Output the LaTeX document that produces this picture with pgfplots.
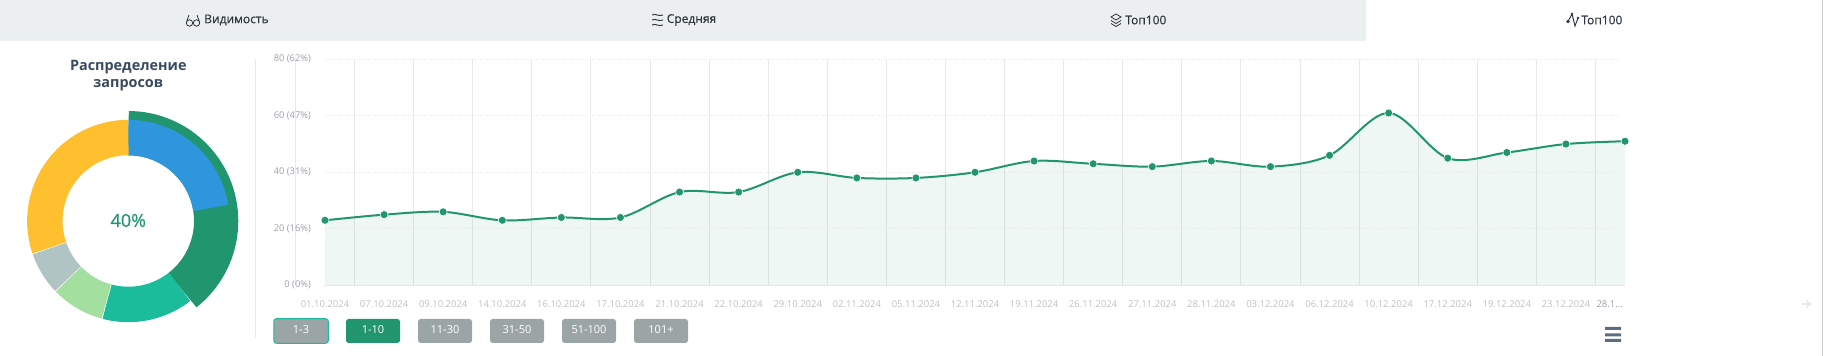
\documentclass[border=0pt]{standalone}
\usepackage{fontspec}
\setmainfont{Open Sans}
\newfontfamily\semib[FakeBold=0.5]{Open Sans}
\usepackage{pgfplots}
\pgfplotsset{compat=1.18}
\usetikzlibrary{arrows.meta}
\definecolor{dgreen}{HTML}{21956E}
\definecolor{teal2}{HTML}{1ABC9C}
\definecolor{lgreen}{HTML}{A3E0A0}
\definecolor{bluegrey}{HTML}{B0C4C4}
\definecolor{amber}{HTML}{FFC02F}
\definecolor{sblue}{HTML}{2F96DD}
\definecolor{band}{HTML}{ECEFF0}
\definecolor{btn}{HTML}{9CA5A5}
\definecolor{gridc}{HTML}{E6EAEA}
\definecolor{ytxt}{HTML}{9CA0AB}
\definecolor{xtxt}{HTML}{BEC0C6}
\definecolor{titlec}{HTML}{3A4A5E}
\definecolor{tabtxt}{HTML}{2F3640}
\definecolor{burger}{HTML}{5F6B80}
\newcommand{\pxfont}[1]{\fontsize{#1}{#1}\selectfont}
\begin{document}
\begin{tikzpicture}[x=0.75pt,y=0.75pt]
\path[use as bounding box] (0,0) rectangle (1823,356);
% header
\fill[band] (0,315) rectangle (1366,356);
\node[anchor=west,inner sep=0,text=tabtxt,font=\pxfont{9pt}\semib] at (204,336) {Видимость};
\node[anchor=west,inner sep=0,text=tabtxt,font=\pxfont{9pt}\semib] at (666.5,336) {Средняя};
\node[anchor=west,inner sep=0,text=tabtxt,font=\pxfont{9pt}\semib] at (1125,336) {Топ100};
\node[anchor=west,inner sep=0,text=tabtxt,font=\pxfont{9pt}\semib] at (1581,336) {Топ100};
% icons
\draw[tabtxt,line width=0.6pt] (189.5,333) circle (3.2) (196.5,333) circle (3.2) (192.7,333.5)--(193.3,333.5) (186.5,334)--(189,341) (199.5,334)--(197,341);
\draw[tabtxt,line width=0.7pt] (652,341) .. controls (656,343) and (658,339) .. (663,341)
 (652,336) .. controls (656,338) and (658,334) .. (663,336)
 (652,331) .. controls (656,333) and (658,329) .. (663,331);
\draw[tabtxt,line width=0.6pt] (1111,339)--(1116,342)--(1121,339)--(1116,336)--cycle (1111,335.5)--(1116,332.5)--(1121,335.5) (1111,332.5)--(1116,329.5)--(1121,332.5);
\draw[tabtxt,line width=0.7pt] (1568,334.5)--(1572,342)--(1575,330)--(1578,338);
\fill[tabtxt] (1568,334.5) circle (1.8) (1572,342) circle (1.3) (1578,338) circle (1.3);
% title
\node[align=center,inner sep=0,text=titlec,font=\pxfont{10.8pt}\bfseries] at (128.3,280) {Распределение\\[2pt]запросов};
% separator
\draw[gridc,line width=0.75pt] (255.3,297) -- (255.3,18);
% donut
\begin{axis}[at={(96.225pt,101.25pt)},anchor=center,x=0.75pt,y=0.75pt,xmin=-115,xmax=115,ymin=-115,ymax=115,hide axis,clip=false,no markers]
\addplot[dgreen,line width=33.2pt,data cs=polar,domain=-52:90,samples=50] ({x},{87.85});
\addplot[sblue,line width=26.6pt,data cs=polar,domain=9:90,samples=30] ({x},{83.45});
\addplot[teal2,line width=26.6pt,data cs=polar,domain=-105:-52,samples=20] ({x},{83.45});
\addplot[lgreen,line width=26.6pt,data cs=polar,domain=-136:-105,samples=12] ({x},{83.45});
\addplot[bluegrey,line width=26.6pt,data cs=polar,domain=-161:-136,samples=10] ({x},{83.45});
\addplot[amber,line width=26.6pt,data cs=polar,domain=-270:-161,samples=40] ({x},{83.45});
\addplot[white,line width=0.3pt,data cs=polar] coordinates {(-105,65.5) (-105,102)};
\addplot[white,line width=0.3pt,data cs=polar] coordinates {(-136,65.5) (-136,102)};
\addplot[white,line width=0.3pt,data cs=polar] coordinates {(-161,65.5) (-161,102)};
\end{axis}
\node[inner sep=0,text=dgreen,font=\pxfont{13.5pt}\semib] at (128.3,135.5) {40\%};
% main chart
\begin{axis}[at={(221.59pt,53.03pt)},anchor=south west,scale only axis,width=997.16pt,height=169.5pt,
 xmin=-0.5,xmax=22,ymin=0,ymax=80,clip=false,
 axis line style={draw=none},tick style={draw=none},
 xtick={0,1,2,3,4,5,6,7,8,9,10,11,12,13,14,15,16,17,18,19,20,21},
 xticklabels={01.10.2024,07.10.2024,09.10.2024,14.10.2024,16.10.2024,17.10.2024,21.10.2024,22.10.2024,29.10.2024,02.11.2024,05.11.2024,12.11.2024,19.11.2024,26.11.2024,27.11.2024,28.11.2024,03.12.2024,06.12.2024,10.12.2024,17.12.2024,19.12.2024,23.12.2024},
 extra x ticks={22},extra x tick labels={28.1{.}{.}{.}},
 extra x tick style={xticklabel style={xshift=-11.5pt,text=ytxt}},
 extra tick style={grid=none},
 ytick={0,20,40,60,80},
 yticklabels={0 (0\%),20 (16\%),40 (31\%),60 (47\%),80 (62\%)},
 minor xtick={-0.5,0.5,1.5,2.5,3.5,4.5,5.5,6.5,7.5,8.5,9.5,10.5,11.5,12.5,13.5,14.5,15.5,16.5,17.5,18.5,19.5,20.5,21.5},
 xminorgrids,minor grid style={gridc,line width=0.75pt},
 xticklabel style={font=\pxfont{7.1pt},text=xtxt,inner sep=0pt,yshift=-11.3pt},
 yticklabel style={font=\pxfont{7pt},text=ytxt,inner sep=0pt,anchor=east,xshift=11.7pt,yshift=0pt},
 ]
\addplot[draw=none,fill=dgreen,fill opacity=0.08,smooth,tension=0.55,forget plot] coordinates {(0,23)(1,25)(2,26)(3,23)(4,24)(5,24)(6,33)(7,33)(8,40)(9,38)(10,38)(11,40)(12,44)(13,43)(14,42)(15,44)(16,42)(17,46)(18,61)(19,45)(20,47)(21,50)(22,51)} \closedcycle;
\addplot[gridc,line width=0.75pt,densely dotted] coordinates {(-0.02,20)(21.93,20)};
\addplot[gridc,line width=0.75pt,densely dotted] coordinates {(-0.02,40)(21.93,40)};
\addplot[gridc,line width=0.75pt,densely dotted] coordinates {(-0.02,60)(21.93,60)};
\addplot[gridc,line width=0.75pt,densely dotted] coordinates {(-0.02,80)(21.93,80)};
\addplot[gridc,line width=0.75pt] coordinates {(-0.02,0)(22,0)};
\addplot[dgreen,line width=1.5pt,smooth,tension=0.55,mark=*,mark size=3pt,mark options={fill=dgreen,draw=white,line width=0.4pt,solid}] coordinates {(0,23)(1,25)(2,26)(3,23)(4,24)(5,24)(6,33)(7,33)(8,40)(9,38)(10,38)(11,40)(12,44)(13,43)(14,42)(15,44)(16,42)(17,46)(18,61)(19,45)(20,47)(21,50)(22,51)};
\end{axis}
% buttons
\foreach \a/\b/\t/\c in {346/400/1-10/dgreen,418/472/11-30/btn,490/544/31-50/btn,562/616/51-100/btn,634/688/101+/btn}{
 \fill[\c,rounded corners=2pt] (\a,13) rectangle (\b,37);
 \node[inner sep=0,text=white,font=\pxfont{8.25pt}] at ({(\a+\b)/2},26) {\t};
}
\draw[teal2,fill=btn,line width=0.75pt,rounded corners=2pt] (273.8,12.7) rectangle (328.3,37.3);
\node[inner sep=0,text=white,font=\pxfont{8.25pt}] at (301,26) {1-3};
% burger
\fill[burger] (1605,26) rectangle (1621,29) (1605,19.7) rectangle (1621,22.7) (1605,14) rectangle (1621,17);
% arrow
\draw[gridc,line width=1.8pt,-{Stealth[length=5pt,width=7pt]}] (1802,52) -- (1812,52);
% right edge
\draw[black!20,line width=0.75pt] (1822.5,0) -- (1822.5,356);
\end{tikzpicture}
\end{document}
